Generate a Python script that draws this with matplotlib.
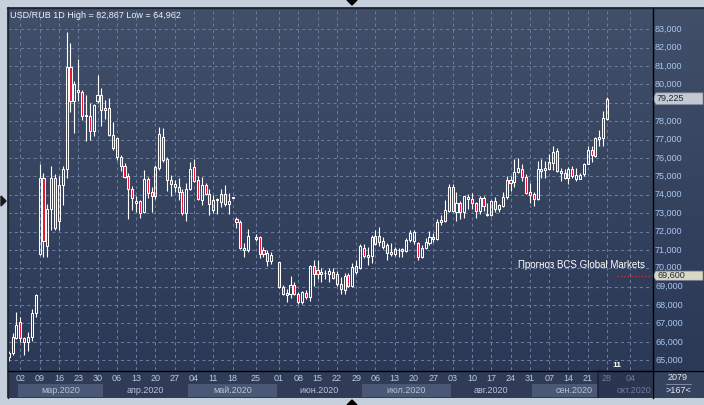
import numpy as np
import matplotlib
matplotlib.use('Agg')
import matplotlib.pyplot as plt
from matplotlib.patches import Rectangle, Polygon

plt.rcParams['font.family'] = ['Liberation Sans', 'DejaVu Sans']

# ---------------- data ----------------
# bar slot index (0 = 02 Mar 2020, one slot per trading day; slots 60 and 66 are empty)
bar_pos = list(range(-3, 60)) + list(range(61, 66)) + list(range(67, 153))

open_ = [65.20, 65.39, 66.21, 67.08, 66.21, 65.97, 66.26, 67.56, 70.77, 74.90,
         71.24, 73.22, 74.94, 72.60, 74.54, 75.39, 80.93, 79.12, 79.61, 79.61,
         78.31, 78.31, 77.47, 79.09, 79.41, 78.62, 78.70, 77.26, 77.08, 76.04,
         75.54, 75.03, 74.30, 73.58, 73.67, 73.04, 74.85, 74.14, 73.91, 75.45,
         77.12, 75.92, 74.83, 74.56, 74.40, 74.16, 72.99, 74.34, 75.49, 74.80,
         73.71, 74.53, 74.07, 73.17, 73.74, 73.62, 74.04, 73.49, 73.85, 72.71,
         72.50, 70.99, 70.97,
         71.57, 71.72, 70.97, 70.85, 70.42,
         70.33, 68.98, 68.53, 68.62, 69.12, 68.62, 68.16, 68.67, 68.44, 70.15,
         69.91, 69.68, 69.73, 69.71, 69.81, 69.68, 69.16, 68.83, 69.64, 69.05,
         69.79, 70.00, 71.13, 70.63, 70.67, 71.32, 71.75, 71.50, 71.27, 70.90,
         70.78, 70.99, 70.96, 70.96, 71.53, 71.50, 71.39, 70.60, 71.08, 71.36,
         71.57, 71.57, 72.53, 72.58, 73.12, 74.45, 73.09, 73.56, 73.05, 73.77,
         73.77, 73.56, 73.14, 73.82, 72.98, 72.88, 73.68, 73.20, 73.41, 73.86,
         74.81, 74.67, 75.24, 75.42, 74.99, 74.13, 74.04, 73.77, 75.29, 75.33,
         75.38, 75.74, 76.37, 75.29, 75.20, 74.93, 75.38, 74.88, 74.88, 75.11,
         75.70, 76.42, 76.10, 77.03, 77.08, 78.10]

high = [65.50, 66.50, 67.60, 67.33, 66.26, 66.53, 67.78, 68.60, 75.66, 75.17,
        73.50, 75.54, 75.12, 75.00, 75.54, 82.87, 82.24, 80.19, 81.40, 79.70,
        79.43, 79.00, 78.94, 80.52, 79.80, 79.16, 79.25, 77.98, 77.10, 76.17,
        75.72, 75.17, 74.50, 73.94, 73.72, 75.36, 74.99, 74.45, 75.63, 77.67,
        77.66, 76.07, 75.07, 74.80, 74.90, 74.34, 74.62, 75.80, 75.92, 75.01,
        74.98, 74.65, 74.29, 73.98, 73.80, 74.29, 74.53, 74.10, 73.87, 72.80,
        72.62, 71.36, 72.12,
        71.85, 71.75, 71.15, 71.00, 70.88,
        70.36, 69.12, 68.90, 69.56, 69.25, 68.71, 68.77, 68.80, 70.18, 70.45,
        70.43, 70.03, 69.93, 70.03, 70.03, 69.83, 69.55, 69.73, 69.77, 70.27,
        70.45, 71.32, 71.32, 71.18, 71.81, 72.11, 72.26, 71.68, 71.36, 71.39,
        71.18, 71.08, 71.13, 71.63, 72.08, 72.08, 71.43, 71.26, 71.63, 72.03,
        71.90, 72.71, 72.88, 73.70, 74.60, 74.60, 74.13, 73.68, 73.95, 74.04,
        74.09, 73.63, 73.91, 73.95, 73.55, 73.73, 73.86, 73.50, 74.13, 75.02,
        75.02, 75.92, 76.00, 75.65, 75.11, 74.63, 74.13, 75.86, 75.92, 75.83,
        76.24, 76.63, 76.54, 75.47, 75.42, 75.52, 75.56, 75.47, 75.17, 75.74,
        76.63, 76.63, 77.14, 77.53, 78.57, 79.32]

low = [64.96, 65.30, 66.15, 65.97, 65.26, 65.48, 66.03, 67.33, 70.73, 70.64,
       70.64, 72.10, 72.06, 72.06, 73.42, 74.90, 78.53, 77.38, 79.10, 78.07,
       76.95, 77.00, 77.20, 79.00, 77.73, 78.14, 77.20, 76.45, 75.90, 75.32,
       74.94, 72.69, 73.16, 73.04, 72.73, 73.00, 73.82, 73.04, 73.78, 75.36,
       75.80, 74.22, 73.95, 74.16, 73.70, 72.90, 72.59, 74.24, 74.70, 73.71,
       73.44, 73.98, 72.90, 72.99, 72.95, 73.31, 73.40, 72.95, 73.83, 72.22,
       71.03, 70.60, 70.88,
       71.50, 70.57, 70.60, 70.15, 70.25,
       68.92, 68.53, 68.16, 68.40, 68.53, 68.04, 68.07, 68.35, 68.20, 69.05,
       69.43, 69.23, 69.43, 69.23, 69.41, 69.03, 68.58, 68.63, 69.01, 68.98,
       69.70, 69.95, 70.54, 70.18, 70.27, 71.27, 71.21, 71.03, 70.45, 70.67,
       70.67, 70.60, 70.63, 70.90, 71.45, 71.33, 70.43, 70.54, 71.03, 71.26,
       71.43, 71.53, 72.35, 72.53, 73.07, 73.07, 72.60, 72.70, 72.73, 73.20,
       73.20, 72.73, 72.96, 73.14, 72.87, 72.84, 73.05, 73.05, 73.32, 73.77,
       74.22, 74.40, 75.20, 74.75, 74.04, 73.56, 73.41, 73.73, 74.93, 74.93,
       75.35, 75.35, 75.24, 74.75, 74.84, 74.58, 74.93, 74.75, 74.84, 75.02,
       75.65, 75.78, 76.06, 76.67, 76.63, 78.07]

close = [65.39, 66.26, 66.93, 66.21, 65.99, 66.26, 67.56, 68.54, 74.94, 71.50,
         73.22, 74.90, 72.22, 74.54, 75.39, 80.93, 79.12, 80.03, 79.70, 78.31,
         78.33, 77.47, 78.87, 79.41, 78.62, 78.72, 77.26, 76.57, 76.04, 75.54,
         74.99, 74.30, 73.82, 73.67, 73.00, 74.85, 74.12, 73.96, 75.50, 77.31,
         75.88, 74.83, 74.56, 74.40, 74.16, 72.99, 74.34, 75.38, 74.76, 73.75,
         74.53, 74.07, 73.49, 73.71, 73.76, 74.04, 73.49, 73.67, 73.86, 72.50,
         71.12, 71.12, 71.75,
         71.70, 70.80, 70.80, 70.42, 70.75,
         68.98, 68.62, 68.65, 69.07, 68.62, 68.16, 68.71, 68.44, 70.15, 69.70,
         69.71, 69.78, 69.74, 69.83, 69.49, 69.16, 68.85, 69.61, 69.05, 70.09,
         70.13, 71.21, 70.67, 70.72, 71.68, 71.75, 71.45, 71.18, 70.81, 70.78,
         71.03, 71.01, 71.05, 71.53, 71.93, 71.99, 70.60, 71.08, 71.45, 71.68,
         71.68, 72.53, 72.65, 73.16, 74.45, 73.12, 73.56, 73.05, 73.91, 73.90,
         73.56, 73.14, 73.80, 73.41, 72.90, 73.68, 73.20, 73.45, 73.86, 74.81,
         74.63, 75.24, 75.47, 74.99, 74.09, 74.00, 73.77, 75.38, 75.38, 75.45,
         75.78, 76.31, 75.29, 75.20, 74.93, 75.38, 75.02, 75.06, 75.08, 75.70,
         76.42, 76.19, 77.08, 77.14, 78.16, 79.225]

tick_pos = [0, 5, 10, 15, 20, 25, 30, 35, 40, 45, 50, 55, 61, 67, 72, 77, 82, 87,
            92, 97, 102, 107, 112, 117, 122, 127, 132, 137, 142, 147, 152, 158]
tick_labels = ['02', '09', '16', '23', '30', '06', '13', '20', '27', '04', '11', '18',
               '25', '01', '08', '15', '22', '29', '06', '13', '20', '27', '03', '10',
               '17', '24', '31', '07', '14', '21', '28', '04']
month_names = ['мар.2020', 'апр.2020', 'май.2020', 'июн.2020', 'июл.2020',
               'авг.2020', 'сен.2020']
month_edges = [-0.5, 21.5, 43.5, 66.5, 88.5, 111.5, 132.5, 154.5]
y_levels = list(range(65, 84))
last_price = 79.225
forecast = 69.60
title = 'USD/RUB 1D High = 82,867 Low = 64,962'
forecast_label = 'Прогноз BCS Global Markets'

# ---------------- layout ----------------
W, H = 704, 405
X0, X1 = -3.19, 163.65
Y0, Y1 = 64.47, 84.16
now_x = 149.7

fig = plt.figure(figsize=(W / 100, H / 100), dpi=100)
fig.patch.set_facecolor('#c6cfdc')


def pax(x0, y0, x1, y1, z):
    a = fig.add_axes([x0 / W, 1 - y1 / H, (x1 - x0) / W, (y1 - y0) / H], zorder=z)
    return a


base = pax(0, 0, W, H, 0)
base.set_xlim(0, W); base.set_ylim(H, 0); base.axis('off')
base.add_patch(Rectangle((7, 7), W - 7, 391, color='#2f3b57', lw=0))
base.add_patch(Rectangle((652, 370), 52, 27.5, color='#36435f', lw=0))

top_c = np.array([0x41, 0x4f, 0x69]) / 255
bot_c = np.array([0x2b, 0x38, 0x56]) / 255
g = np.linspace(0, 1, 256).reshape(-1, 1, 1)
grad = bot_c + (top_c - bot_c) * g

# main plot
ax = pax(8, 8, 652, 370, 2)
ax.imshow(grad, extent=(X0, X1, Y0, Y1), origin='lower', aspect='auto', zorder=0)
ax.set_xlim(X0, X1); ax.set_ylim(Y0, Y1); ax.axis('off')

gcol = '#687c9e'
for v in y_levels:
    ax.axhline(v, color=gcol, lw=0.75, ls=(0, (3, 3)), zorder=1)
for t in tick_pos:
    ax.axvline(t, color=gcol, lw=0.75, ls=(0, (3, 3)), zorder=1)

for p, o, h, l, c in zip(bar_pos, open_, high, low, close):
    lo_b, hi_b = min(o, c), max(o, c)
    up = c >= o
    ax.vlines(p, hi_b, h, color='white', lw=0.8, zorder=3)
    ax.vlines(p, l, lo_b, color='white', lw=0.8, zorder=3)
    ax.add_patch(Rectangle((p - 0.27, lo_b), 0.54, max(hi_b - lo_b, 0.03),
                           facecolor='none' if up else '#e8132f',
                           edgecolor='white', lw=0.75, zorder=4))

ax.hlines(forecast, 154.6, X1, color='#e0202c', lw=1.0, ls=(0, (1, 1.5)), zorder=5)
ax.text(161.8, 70.18, forecast_label, color='white', fontsize=7,
        ha='right', va='center', zorder=6)

# right price axis
axr = pax(652, 8, 704, 370, 2)
axr.imshow(grad, extent=(0, 52, Y0, Y1), origin='lower', aspect='auto', zorder=0)
axr.set_xlim(0, 52); axr.set_ylim(Y0, Y1); axr.axis('off')
for v in y_levels:
    if abs(v - last_price) < 0.5:
        continue  # hidden under the last-price tag, as in the reference
    axr.text(3, v + (0.08 if abs(v - forecast) < 0.5 else 0), f'{v},000',
             color='#a9c6ee', fontsize=6.5, ha='left', va='center')
for val, fc, txt, hh in [(last_price, '#c4c8d0', '79,225', 0.32),
                         (forecast, '#d9d9c3', '69,600', 0.25)]:
    axr.add_patch(Polygon([(0.6, val), (4, val + hh), (51, val + hh), (51, val - hh),
                           (4, val - hh)], closed=True, facecolor=fc,
                          edgecolor='#7d889c', lw=0.5, zorder=5))
    axr.text(5, val, txt, color='#1c2841', fontsize=6.5, ha='left', va='center', zorder=6)

# date axis
axb = pax(8, 370, 652, 398, 2)
axb.set_xlim(X0, X1); axb.set_ylim(28, 0); axb.axis('off')
axb.add_patch(Rectangle((X0, 0), X1 - X0, 28, color='#2f3b57', lw=0))
for k, name in enumerate(month_names):
    a, b = month_edges[k], month_edges[k + 1]
    if k % 2 == 0:
        axb.add_patch(Rectangle((a, 14), min(b, now_x) - a, 13, color='#4a5876', lw=0))
    axb.text((a + b) / 2, 20.3, name, color='#b7c3d8', fontsize=6.5, ha='center',
             va='center', clip_on=True)
axb.add_patch(Rectangle((now_x, 0), X1 - now_x, 28, color='#2a3550', lw=0, zorder=3))
axb.axvline(now_x, color='#1b2335', lw=1.2, zorder=4)
axb.text(154.5, 20.3, 'окт.2020', color='#6e7d98', fontsize=6.5, ha='left',
         va='center', zorder=5, clip_on=True)
for t, lab in zip(tick_pos, tick_labels):
    col = '#b3cbe8' if t < now_x else '#6e7d98'
    axb.text(t, 8.3, lab, color=col, fontsize=6.5, ha='center', va='center', zorder=5)

# overlay decorations
ov = pax(0, 0, W, H, 10)
ov.set_xlim(0, W); ov.set_ylim(H, 0); ov.axis('off')
ov.plot([7, W], [7.5, 7.5], color='#1e2636', lw=0.9)
ov.plot([7.5, 7.5], [7, 398], color='#1e2636', lw=0.9)
ov.plot([652.5, 652.5], [8, 398], color='black', lw=1)
ov.plot([8, W], [370.5, 370.5], color='black', lw=1)
ov.text(10, 15.5, title, color='#eef2f8', fontsize=6.5, ha='left', va='center')
ov.text(617, 365.5, '11', color='white', fontsize=6, fontweight='bold',
        ha='center', va='center')
ov.text(678, 378, '2079', color='#e8ecf4', fontsize=6.5, ha='center', va='center')
ov.plot([666, 691], [383.8, 383.8], color='#8898b0', lw=0.6)
ov.text(678, 390.5, '>167<', color='#e8ecf4', fontsize=6.5, ha='center', va='center')
ov.add_patch(Polygon([(347, 0), (357, 0), (352, 5)], color='black'))
ov.add_patch(Polygon([(347, 405), (357, 405), (352, 400)], color='black'))
ov.add_patch(Polygon([(1, 196), (1, 206), (6, 201)], color='#1a1a1a'))

fig.savefig('out.png', dpi=100, facecolor=fig.get_facecolor())
